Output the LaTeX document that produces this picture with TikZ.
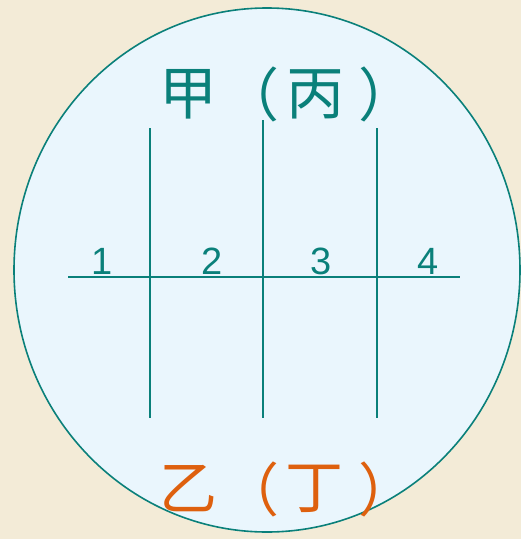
\documentclass[tikz,border=0pt]{standalone}
\usepackage{fontspec}
\setmainfont{Liberation Sans}
\newfontfamily\cjk{Noto Sans CJK SC}
\definecolor{gridteal}{RGB}{10,128,122}
\definecolor{labelorange}{RGB}{222,96,14}
\definecolor{fieldblue}{RGB}{234,246,253}
\definecolor{pagebeige}{RGB}{243,235,215}
\begin{document}
\begin{tikzpicture}[x=1pt,y=-1pt,
  gridline/.style={draw=gridteal,line width=1.6pt},
  num/.style={font=\fontsize{38}{38}\selectfont,text=gridteal,anchor=base,inner sep=0pt},
  hanzi/.style={font=\cjk\fontsize{58}{58}\selectfont,inner sep=0pt}]
\fill[pagebeige] (0,0) rectangle (521,539);
\useasboundingbox (0,0) rectangle (521,539);
% field of view
\draw[draw=gridteal,fill=fieldblue,line width=1.6pt] (267,270) ellipse [x radius=253, y radius=262];
% labels, one glyph per node
\foreach \i/\c/\x in {1/甲/188,2/（/250,3/丙/315,4/）/387}
  \node[hanzi,text=gridteal] (top\i) at (\x,94) {\c};
\foreach \i/\c/\x in {1/乙/188,2/（/250,3/丁/314,4/）/387}
  \node[hanzi,text=labelorange] (bottom\i) at (\x,489) {\c};
% grid
\coordinate (hl) at (68,277);
\coordinate (hr) at (460,277);
\draw[gridline] (hl) -- (hr);
\foreach \i/\x/\t in {1/150/128,2/263/120,3/377/128} {
  \coordinate (v\i t) at (\x,\t);
  \coordinate (v\i b) at (\x,418);
  \draw[gridline] (v\i t) -- (v\i b);
}
\foreach \i/\x in {1/102,2/212,3/321,4/428}
  \node[num] (n\i) at (\x,274) {\i};
\end{tikzpicture}
\end{document}
